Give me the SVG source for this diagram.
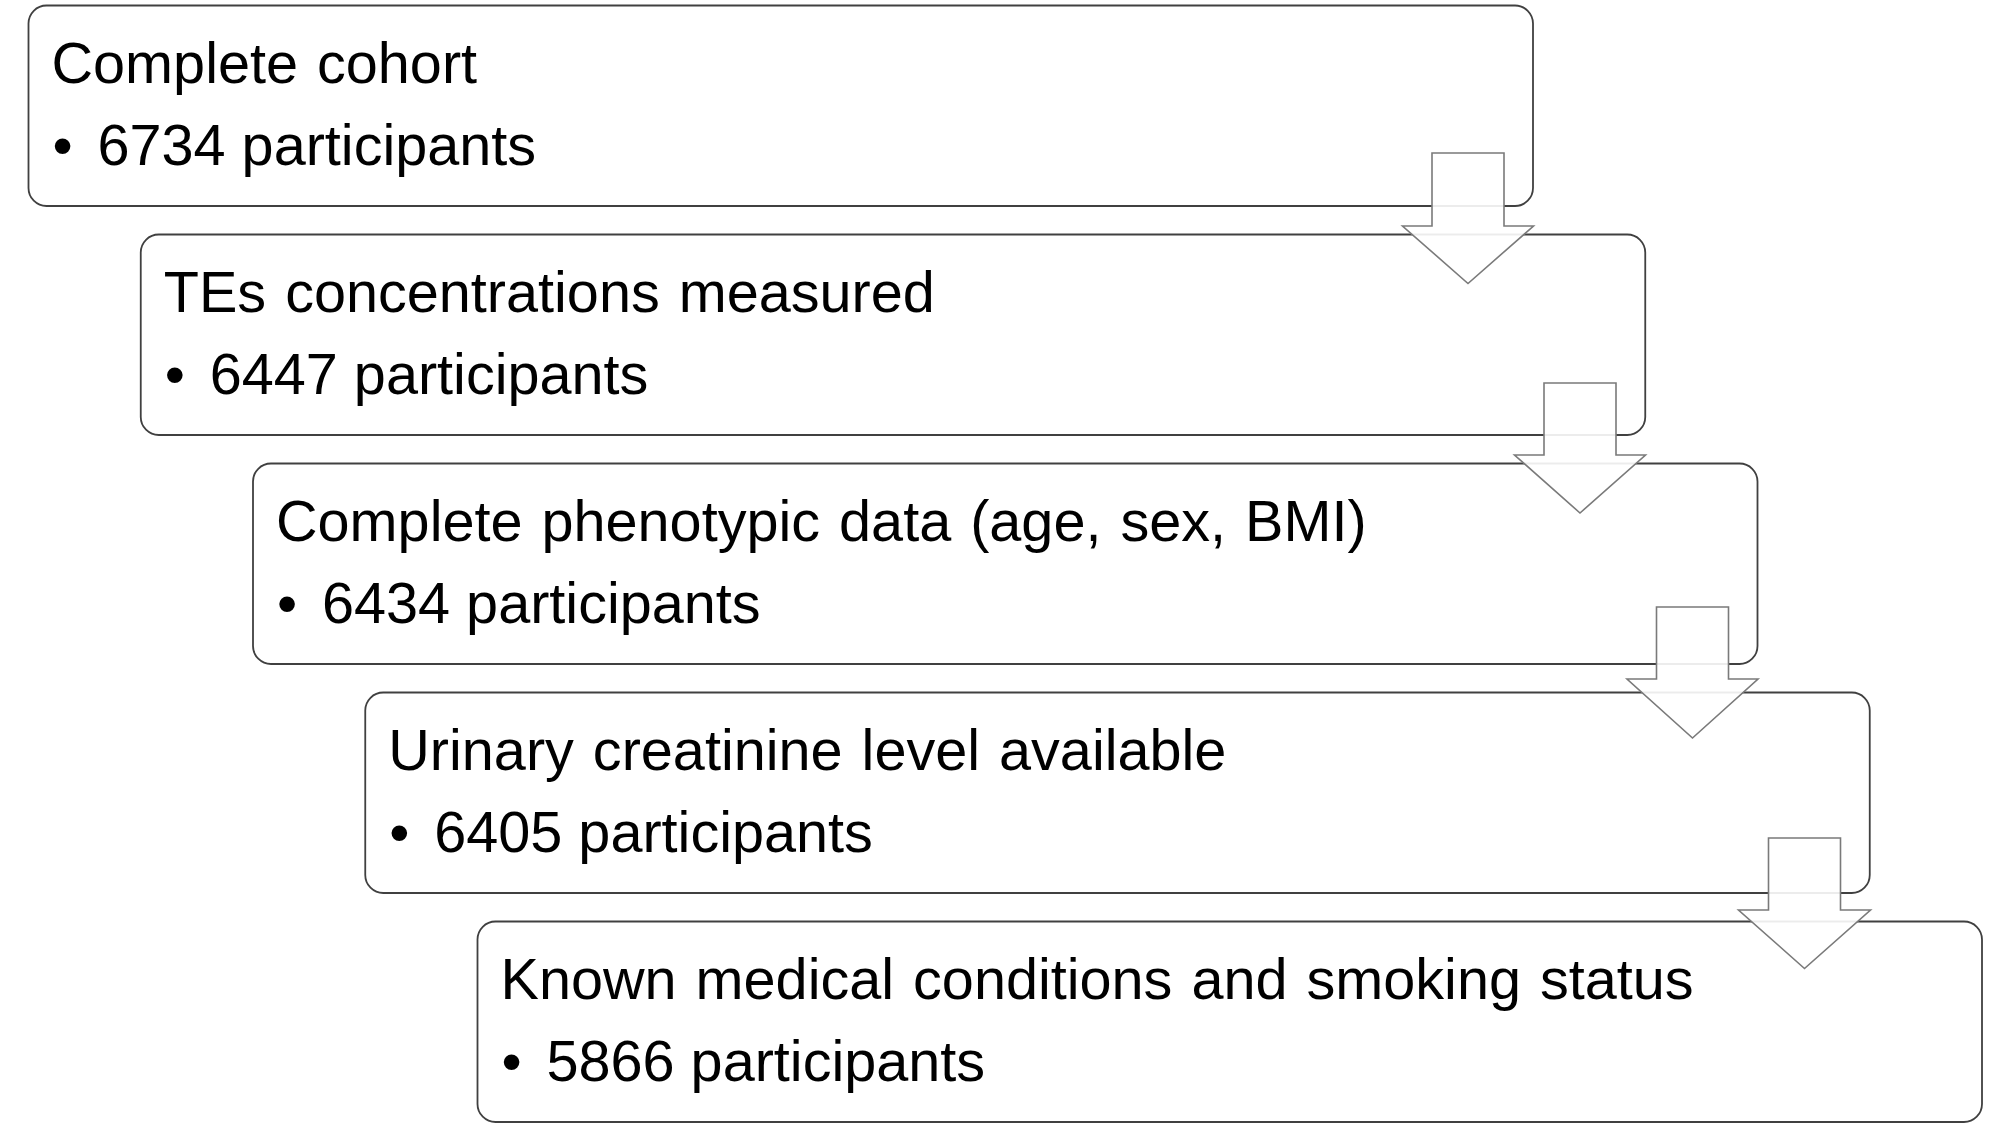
<svg xmlns="http://www.w3.org/2000/svg" width="2008" height="1131" viewBox="0 0 2008 1131">
<style>
.box{fill:#ffffff;stroke:#404040;stroke-width:1.8}
.t{font-family:"Liberation Sans",Arial,sans-serif;font-size:57.6px;fill:#000000}
.title{word-spacing:3px}
.arrow{fill:#ffffff;fill-opacity:0.9;stroke:#7a7a7a;stroke-width:1.6;stroke-linejoin:miter}
</style>
<rect width="2008" height="1131" fill="#ffffff"/>
<g id="node1">
<rect class="box" x="28.5" y="5.5" width="1504.5" height="200.5" rx="18"/>
<text class="t title" x="51.5" y="82.5">Complete cohort</text>
<text class="t" x="52.5" y="165">•</text>
<text class="t" x="97.5" y="165">6734 participants</text>
</g>
<g id="node2">
<rect class="box" x="140.75" y="234.5" width="1504.5" height="200.5" rx="18"/>
<text class="t title" x="163.75" y="311.5">TEs concentrations measured</text>
<text class="t" x="164.75" y="394">•</text>
<text class="t" x="209.75" y="394">6447 participants</text>
</g>
<g id="node3">
<rect class="box" x="253" y="463.5" width="1504.5" height="200.5" rx="18"/>
<text class="t title" x="276" y="540.5">Complete phenotypic data (age, sex, BMI)</text>
<text class="t" x="277" y="623">•</text>
<text class="t" x="322" y="623">6434 participants</text>
</g>
<g id="node4">
<rect class="box" x="365.25" y="692.5" width="1504.5" height="200.5" rx="18"/>
<text class="t title" x="388.25" y="769.5">Urinary creatinine level available</text>
<text class="t" x="389.25" y="852">•</text>
<text class="t" x="434.25" y="852">6405 participants</text>
</g>
<g id="node5">
<rect class="box" x="477.5" y="921.5" width="1504.5" height="200.5" rx="18"/>
<text class="t title" x="500.5" y="998.5">Known medical conditions and smoking status</text>
<text class="t" x="501.5" y="1081">•</text>
<text class="t" x="546.5" y="1081">5866 participants</text>
</g>
<g id="connectors">
<path class="arrow" d="M1432,153 H1504 V226 H1533.5 L1468,283.5 L1402.5,226 H1432 Z"/>
<path class="arrow" d="M1544,383 H1616 V455 H1645.5 L1580,513 L1514.5,455 H1544 Z"/>
<path class="arrow" d="M1656.5,607 H1728.5 V679 H1758 L1692.5,738 L1627,679 H1656.5 Z"/>
<path class="arrow" d="M1768.5,838 H1840.5 V910 H1870.5 L1804.5,968.5 L1738.5,910 H1768.5 Z"/>
</g>
</svg>
